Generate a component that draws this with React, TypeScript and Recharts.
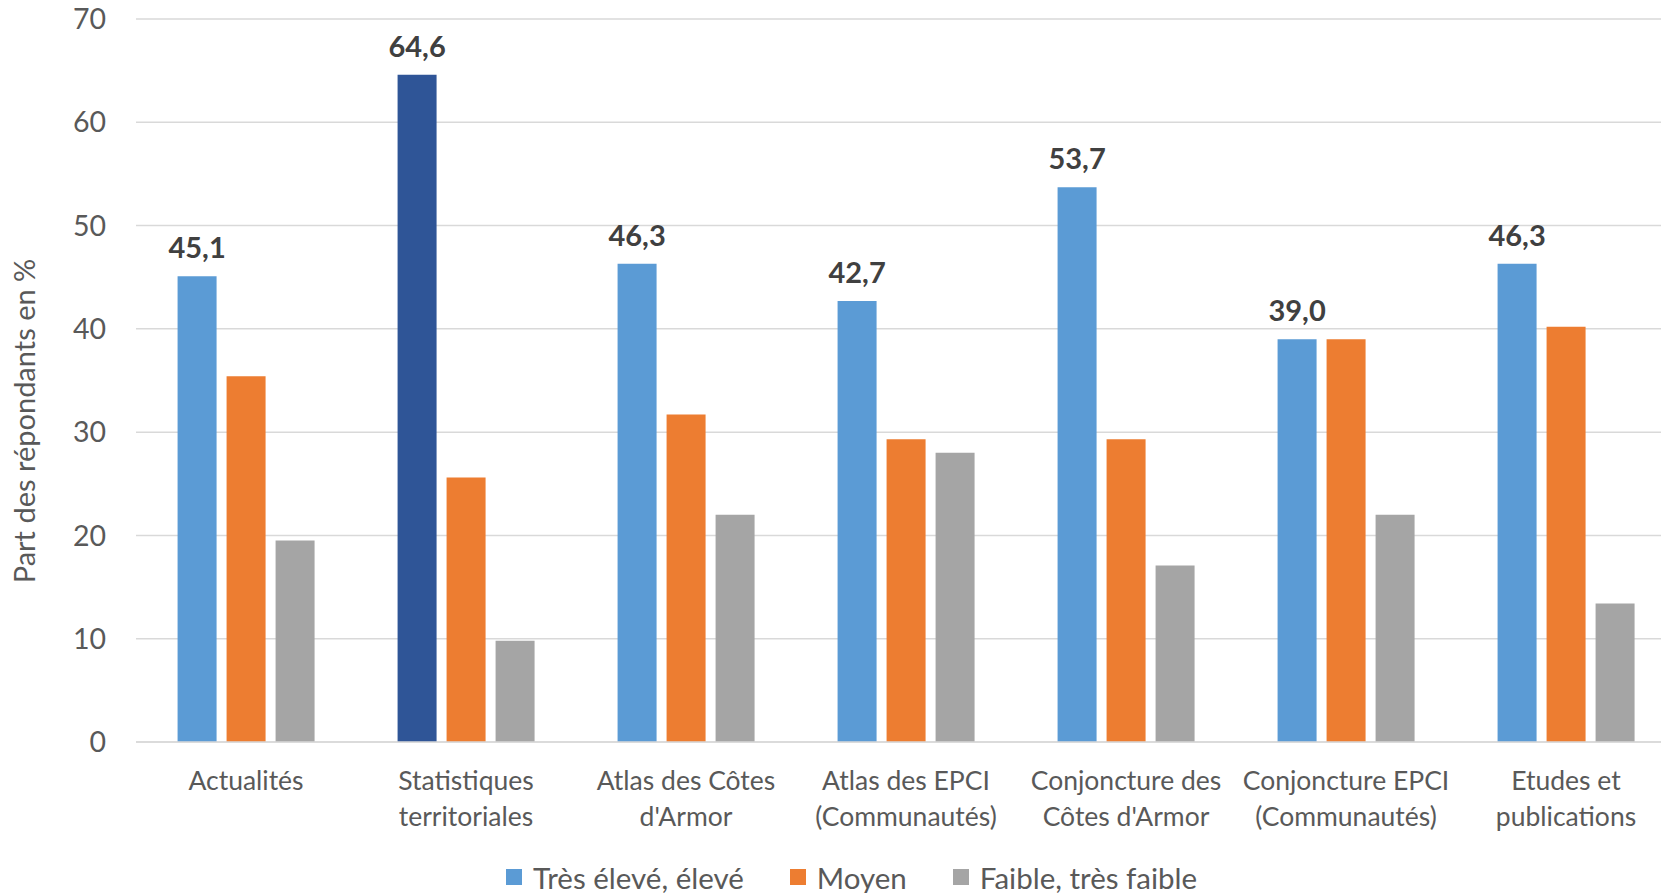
import React from 'react';
import { BarChart, Bar, XAxis, YAxis, CartesianGrid, Cell, LabelList, Label } from 'recharts';

const categories = [
  'Actualités',
  'Statistiques territoriales',
  "Atlas des Côtes d'Armor",
  'Atlas des EPCI (Communautés)',
  "Conjoncture des Côtes d'Armor",
  'Conjoncture EPCI (Communautés)',
  'Etudes et publications',
];
const categoryLines = [
  ['Actualités'],
  ['Statistiques', 'territoriales'],
  ['Atlas des Côtes', "d'Armor"],
  ['Atlas des EPCI', '(Communautés)'],
  ['Conjoncture des', "Côtes d'Armor"],
  ['Conjoncture EPCI', '(Communautés)'],
  ['Etudes et', 'publications'],
];
const highValues = [45.1, 64.6, 46.3, 42.7, 53.7, 39.0, 46.3];
const mediumValues = [35.4, 25.6, 31.7, 29.3, 29.3, 39.0, 40.2];
const lowValues = [19.5, 9.8, 22.0, 28.0, 17.1, 22.0, 13.4];
const yTicks = [0, 10, 20, 30, 40, 50, 60, 70];
const seriesNames = ['Très élevé, élevé', 'Moyen', 'Faible, très faible'];
const highlightIndex = 1;

const COLORS = ['#5B9BD5', '#ED7D31', '#A5A5A5'];
const HIGHLIGHT = '#2F5597';
const FONT = 'Lato, "Open Sans", sans-serif';
const TEXT = '#595959';

const data = categories.map((c, i) => ({
  name: c,
  high: highValues[i],
  medium: mediumValues[i],
  low: lowValues[i],
}));

const CategoryTick = (props: any) => {
  const { x, y, index } = props;
  const lines: string[] = categoryLines[index] || [];
  return (
    <g>
      {lines.map((l, k) => (
        <text
          key={k}
          x={x}
          y={y + 48 + k * 36}
          textAnchor="middle"
          fill={TEXT}
          fontSize={26.5}
          fontFamily={FONT}
        >
          {l}
        </text>
      ))}
    </g>
  );
};

export default function App() {
  return (
    <div style={{ position: 'absolute', left: 0, top: 0, width: 1661, height: 893, background: '#fff', overflow: 'hidden' }}>
      <BarChart
        width={1676}
        height={893}
        data={data}
        margin={{ top: 19, right: 0, bottom: 0, left: 0 }}
        barCategoryGap="18.9%"
        barGap={10}
      >
        <CartesianGrid vertical={false} stroke="#D9D9D9" strokeWidth={1.5} />
        <XAxis
          dataKey="name"
          height={151}
          tickSize={0}
          tickMargin={0}
          axisLine={{ stroke: '#D9D9D9', strokeWidth: 1.5 }}
          tickLine={false}
          tick={<CategoryTick />}
          interval={0}
        />
        <YAxis
          width={136}
          domain={[0, 70]}
          ticks={yTicks}
          tickSize={0}
          tickMargin={30}
          axisLine={false}
          tickLine={false}
          tick={{ fill: TEXT, fontSize: 28.5, fontFamily: FONT }}
        >
          <Label
            content={() => (
              <text
                x={23}
                y={421}
                transform="rotate(-90 23 421)"
                textAnchor="middle"
                dominantBaseline="central"
                fill={TEXT}
                fontSize={29}
                fontFamily={FONT}
              >
                Part des répondants  en %
              </text>
            )}
          />
        </YAxis>
        <Bar dataKey="high" name={seriesNames[0]} fill={COLORS[0]} isAnimationActive={false}>
          {data.map((d, i) => (
            <Cell key={i} fill={i === highlightIndex ? HIGHLIGHT : COLORS[0]} />
          ))}
          <LabelList
            dataKey="high"
            position="top"
            offset={18}
            formatter={(v: any) => Number(v).toFixed(1).replace('.', ',')}
            style={{ fill: '#404040', fontWeight: 700, fontSize: 29, fontFamily: FONT }}
          />
        </Bar>
        <Bar dataKey="medium" name={seriesNames[1]} fill={COLORS[1]} isAnimationActive={false} />
        <Bar dataKey="low" name={seriesNames[2]} fill={COLORS[2]} isAnimationActive={false} />
      </BarChart>
      <div
        style={{
          position: 'absolute',
          top: 860,
          left: 506,
          height: 34,
          display: 'flex',
          alignItems: 'center',
          fontFamily: FONT,
          fontSize: 29.5,
          color: TEXT,
          whiteSpace: 'nowrap',
        }}
      >
        {seriesNames.map((n, i) => (
          <div key={i} style={{ display: 'flex', alignItems: 'center', marginRight: i < 2 ? 46 : 0 }}>
            <span style={{ width: 16, height: 16, background: COLORS[i], marginRight: 11, display: 'inline-block' }} />
            <span>{n}</span>
          </div>
        ))}
      </div>
    </div>
  );
}
